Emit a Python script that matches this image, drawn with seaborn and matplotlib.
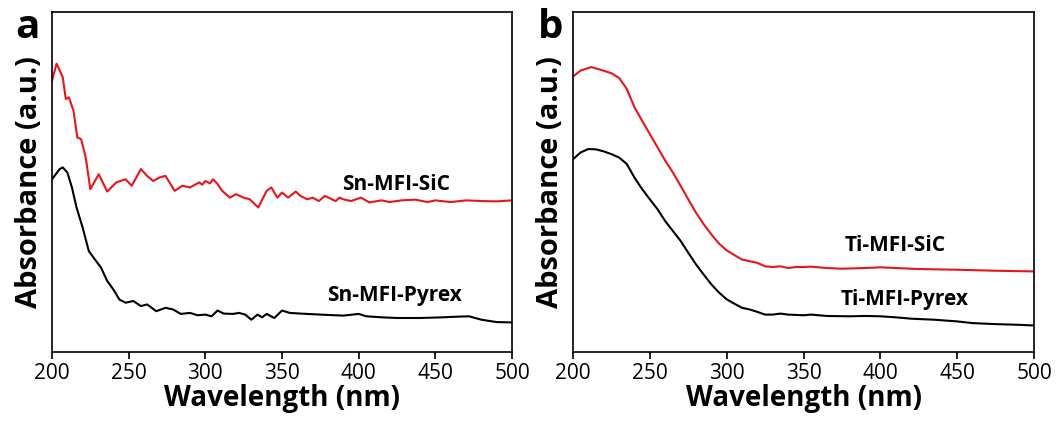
import numpy as np
import pandas as pd
import matplotlib
matplotlib.use('Agg')
import matplotlib.pyplot as plt
import seaborn as sns

# panel a: Sn-MFI samples (absorbance in arbitrary units)
sn_sic_wl = [200, 203, 207, 209, 211, 214, 216.5, 219, 222, 225, 230.5, 236, 242, 248, 252,
             258, 262, 266, 270, 274, 280, 285, 290, 296, 298, 300, 303, 305, 308, 311,
             316, 320, 325, 329, 334.5, 340, 343, 347, 350, 354, 359, 362, 366.5, 370,
             374, 378, 385, 387.5, 390, 395, 401.5, 407, 415, 420, 428, 437, 445, 450,
             460, 470, 480, 490, 500]
sn_sic_abs = [0.798, 0.848, 0.808, 0.744, 0.749, 0.710, 0.631, 0.626, 0.572, 0.479, 0.523,
              0.472, 0.499, 0.508, 0.489, 0.538, 0.518, 0.503, 0.513, 0.518, 0.474, 0.489,
              0.484, 0.499, 0.492, 0.503, 0.496, 0.508, 0.494, 0.474, 0.454, 0.464, 0.454,
              0.449, 0.425, 0.474, 0.484, 0.454, 0.469, 0.454, 0.472, 0.459, 0.449, 0.454,
              0.444, 0.459, 0.444, 0.454, 0.449, 0.444, 0.454, 0.440, 0.446, 0.441, 0.446,
              0.448, 0.441, 0.446, 0.441, 0.446, 0.444, 0.443, 0.446]

sn_pyr_wl = [200, 205, 207, 210, 213, 216, 220, 224, 228, 232, 236, 240, 244, 248, 253, 258,
             262, 268, 274, 279, 284, 290, 295, 300, 304, 308, 312, 318, 322, 326, 330, 334,
             337, 340, 345, 350, 355, 362, 375, 390, 400, 405, 415, 425, 440, 455, 465, 472,
             480, 490, 500]
sn_pyr_abs = [0.508, 0.538, 0.543, 0.528, 0.484, 0.425, 0.366, 0.297, 0.272, 0.248, 0.209,
              0.184, 0.154, 0.145, 0.150, 0.135, 0.140, 0.120, 0.130, 0.125, 0.112, 0.115,
              0.108, 0.110, 0.105, 0.122, 0.113, 0.112, 0.115, 0.110, 0.095, 0.110, 0.102,
              0.112, 0.100, 0.122, 0.115, 0.113, 0.110, 0.107, 0.112, 0.105, 0.102, 0.100,
              0.100, 0.102, 0.104, 0.105, 0.095, 0.088, 0.087]

# panel b: Ti-MFI samples
ti_sic_wl = [200, 205, 212, 218, 225, 230, 235, 240, 245, 250, 255, 260, 265, 270, 275, 280,
             285, 290, 295, 300, 305, 310, 315, 320, 325, 330, 335, 340, 345, 350, 355, 365,
             375, 390, 400, 410, 425, 450, 475, 500]
ti_sic_abs = [0.810, 0.828, 0.838, 0.830, 0.820, 0.806, 0.774, 0.720, 0.680, 0.641, 0.602,
              0.563, 0.528, 0.489, 0.449, 0.410, 0.376, 0.346, 0.319, 0.299, 0.285, 0.272,
              0.267, 0.262, 0.252, 0.250, 0.252, 0.247, 0.250, 0.250, 0.251, 0.247, 0.245,
              0.247, 0.249, 0.247, 0.244, 0.242, 0.239, 0.237]

ti_pyr_wl = [200, 205, 210, 215, 220, 225, 230, 235, 240, 245, 250, 255, 260, 265, 270, 275,
             280, 285, 290, 295, 300, 305, 310, 315, 320, 325, 330, 335, 340, 350, 355, 365,
             380, 390, 400, 410, 420, 435, 450, 460, 475, 490, 500]
ti_pyr_abs = [0.567, 0.587, 0.597, 0.596, 0.590, 0.582, 0.572, 0.553, 0.513, 0.479, 0.449,
              0.420, 0.385, 0.356, 0.327, 0.292, 0.258, 0.228, 0.199, 0.175, 0.155, 0.142,
              0.130, 0.125, 0.118, 0.110, 0.110, 0.113, 0.110, 0.108, 0.110, 0.106, 0.105,
              0.106, 0.105, 0.102, 0.098, 0.095, 0.090, 0.085, 0.082, 0.080, 0.078]

sns.set_style('white')
plt.rcParams['font.family'] = ['Open Sans', 'DejaVu Sans']
plt.rcParams['text.color'] = 'black'
plt.rcParams['axes.labelcolor'] = 'black'
plt.rcParams['xtick.color'] = 'black'

fig = plt.figure(figsize=(10.59, 4.21), dpi=100)
ax_a = fig.add_axes([52 / 1059, 69 / 421, 460 / 1059, 340 / 421])
ax_b = fig.add_axes([573 / 1059, 69 / 421, 461 / 1059, 340 / 421])

panels = [
    (ax_a, (sn_sic_wl, sn_sic_abs, 'Sn-MFI-SiC'), (sn_pyr_wl, sn_pyr_abs, 'Sn-MFI-Pyrex'),
     [(396, 184), (395, 295)]),
    (ax_b, (ti_sic_wl, ti_sic_abs, 'Ti-MFI-SiC'), (ti_pyr_wl, ti_pyr_abs, 'Ti-MFI-Pyrex'),
     [(895, 245), (905, 300)]),
]

for ax, red, black, label_pos in panels:
    sns.lineplot(x=red[0], y=red[1], ax=ax, color='#e8141b', lw=1.5)
    sns.lineplot(x=black[0], y=black[1], ax=ax, color='black', lw=1.5)
    ax.set_xlim(200, 500)
    ax.set_ylim(0, 1)
    ax.set_xticks([200, 250, 300, 350, 400, 450, 500])
    ax.set_yticks([])
    ax.tick_params(axis='x', direction='out', length=5, width=1.2, labelsize=15,
                   bottom=True, pad=3, labelcolor='black')
    for s in ax.spines.values():
        s.set_color('black')
        s.set_linewidth(1.2)
    ax.set_xlabel('Wavelength (nm)', fontsize=20, fontweight='bold', labelpad=0)
    ax.set_ylabel('Absorbance (a.u.)', fontsize=21, fontweight='bold', labelpad=6)
    for (px, py), name in zip(label_pos, [red[2], black[2]]):
        fig.text(px / 1059, 1 - py / 421, name, ha='center', va='center',
                 fontsize=15, fontweight='bold')

fig.text(27 / 1059, 1 - 28 / 421, 'a', ha='center', va='center', fontsize=29, fontweight='bold')
fig.text(551 / 1059, 1 - 28 / 421, 'b', ha='center', va='center', fontsize=29, fontweight='bold')

fig.savefig('out.png', dpi=100)
